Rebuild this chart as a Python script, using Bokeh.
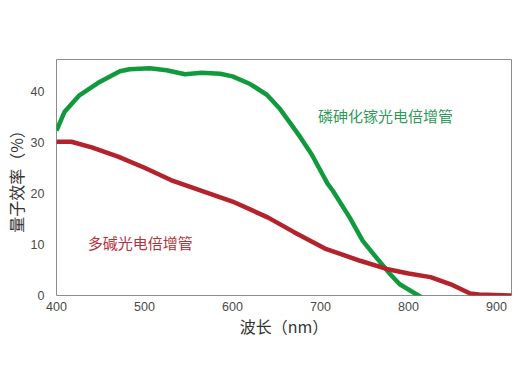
from bokeh.plotting import figure
from bokeh.models import Range1d, FixedTicker, Label
from bokeh.embed import file_html
from bokeh.resources import INLINE

# GaAsP photomultiplier (green)
gaasp_nm = [400, 409, 426, 449, 472, 483, 506, 525, 546, 565, 586, 600, 620, 639, 654, 665, 677, 690, 708, 714, 733, 748, 763, 779, 790, 815]
gaasp_qe = [32.3, 35.9, 39.2, 41.8, 43.9, 44.3, 44.5, 44.1, 43.3, 43.6, 43.4, 42.9, 41.4, 39.3, 36.5, 33.9, 31.0, 27.6, 21.9, 20.5, 15.3, 10.7, 7.5, 4.2, 2.2, -0.4]

# Multialkali photomultiplier (red)
alkali_nm = [400, 417, 440, 470, 500, 530, 565, 600, 640, 670, 705, 745, 775, 800, 825, 848, 870, 880, 917]
alkali_qe = [30.1, 30.1, 29.0, 27.2, 25.0, 22.6, 20.5, 18.4, 15.3, 12.4, 9.2, 6.8, 5.2, 4.3, 3.6, 2.2, 0.4, 0.2, 0.0]

x_ticks = [400, 500, 600, 700, 800, 900]
y_ticks = [0, 10, 20, 30, 40]

label_gaasp = "磷砷化镓光电倍增管"
label_alkali = "多碱光电倍增管"
x_title = "波长（nm）"
y_title = "量子效率（%）"

GREEN = "#119a3d"
RED = "#b4222b"
CJK = "Noto Sans CJK SC"

p = figure(width=512, height=380, output_backend="svg", toolbar_location=None,
           x_range=Range1d(400, 917), y_range=Range1d(0, 46.2),
           min_border_left=56, min_border_right=1, min_border_top=59, min_border_bottom=85)
p.background_fill_color = "white"
p.border_fill_color = "white"
p.outline_line_color = "#8c8c8c"
p.outline_line_width = 1
p.grid.visible = False

p.line(gaasp_nm, gaasp_qe, line_color=GREEN, line_width=4.5, line_join="round")
p.line(alkali_nm, alkali_qe, line_color=RED, line_width=4.5, line_join="round")

for ax in (p.xaxis[0], p.yaxis[0]):
    ax.axis_line_color = None
    ax.major_tick_line_color = None
    ax.minor_tick_line_color = None
    ax.major_label_text_font = "Liberation Sans"
    ax.major_label_text_font_size = "12.5px"
    ax.major_label_text_color = "#4a4a4a"
    ax.axis_label_text_font = CJK
    ax.axis_label_text_font_size = "16px"
    ax.axis_label_text_font_style = "normal"
    ax.axis_label_text_color = "#333333"

p.xaxis.ticker = FixedTicker(ticks=x_ticks)
p.yaxis.ticker = FixedTicker(ticks=y_ticks)
p.xaxis.major_label_standoff = 0
p.yaxis.major_label_standoff = 6
p.xaxis.axis_label = x_title
p.yaxis.axis_label = y_title
p.xaxis.axis_label_standoff = 0
p.yaxis.axis_label_standoff = 0

p.add_layout(Label(x=697, y=35.2, text=label_gaasp, text_font=CJK, text_font_size="15px",
                   text_color="#2f9a56", text_baseline="middle"))
p.add_layout(Label(x=435.6, y=10.3, text=label_alkali, text_font=CJK, text_font_size="15px",
                   text_color="#b5323d", text_baseline="middle"))

open("out.html", "w").write(file_html(p, INLINE))
